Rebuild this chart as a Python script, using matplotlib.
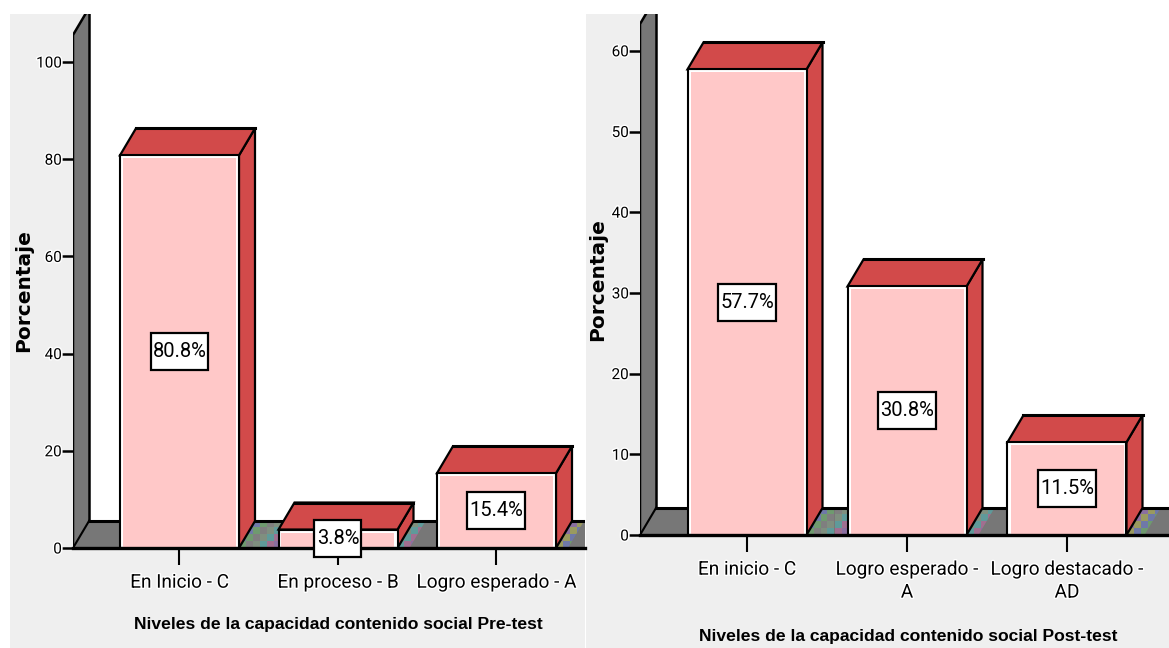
import matplotlib
matplotlib.use('Agg')
import matplotlib.pyplot as plt
import matplotlib.patheffects as pe
from matplotlib.patches import Polygon, Rectangle

W, H = 1169, 648

pre_labels = ['En Inicio - C', 'En proceso - B', 'Logro esperado - A']
pre_values = [80.8, 3.8, 15.4]
pre_ticks = [0, 20, 40, 60, 80, 100]

post_labels = ['En inicio - C', 'Logro esperado -\nA', 'Logro destacado -\nAD']
post_values = [57.7, 30.8, 11.5]
post_ticks = [0, 10, 20, 30, 40, 50, 60]

thin = ['Roboto', 'Liberation Sans']
pink = '#ffc8c8'
red = '#d24a4a'
wall = '#777777'
panel = '#efefef'
# the speckled floor next to the bars
tints = ['#8a6fa0', '#6f9a6f', '#5f9a9a', '#9a9a5f', '#7f7f7f', '#a06f90', '#6f78a8', '#7f8f7f']

fig = plt.figure(figsize=(W / 100, H / 100), dpi=100, facecolor='white')
halo = [pe.withStroke(linewidth=2, foreground='white')]


def px_rect(x0, y0, x1, y1):
    # pixel box (y from the top) to figure fractions
    return [x0 / W, 1 - y1 / H, (x1 - x0) / W, (y1 - y0) / H]


def draw_chart(box, pitch, first_tick, px_unit, labels, values, ticks, xlabel, xlabel_pos, ylabel_pos, cut, speckle):
    x0, y0, x1, y1 = box
    ax = fig.add_axes(px_rect(x0, y0, x1, y1), facecolor='none')
    xmin = 1 - (first_tick - x0) / pitch
    xmax = 1 + (x1 - first_tick) / pitch
    ymax = (y1 - y0) / px_unit
    ax.set_xlim(xmin, xmax)
    ax.set_ylim(0, ymax)
    dx = 16 / pitch
    dy = 27 / px_unit
    w = 119 / pitch

    # back wall, floor
    ax.add_patch(Polygon([(xmin + dx, dy), (xmax, dy), (xmax, ymax), (xmin + dx, ymax)], fc='white', ec='none', zorder=1))
    cut_y = ymax - cut / px_unit
    cut_x = xmin + dx * cut / 27
    ax.add_patch(Polygon([(xmin, 0), (xmin + dx, dy), (xmin + dx, ymax), (cut_x, ymax), (xmin, cut_y)],
                         fc=wall, ec='none', zorder=2, clip_on=False))
    ax.plot([xmin, xmin, cut_x], [0, cut_y, ymax], color='black', lw=1.8, zorder=3)
    ax.plot([xmin + dx, xmin + dx], [dy, ymax], color='black', lw=1.8, zorder=3)
    ax.plot([xmin, xmin + dx], [0, dy], color='black', lw=1.5, zorder=3)
    ax.add_patch(Polygon([(xmin, 0), (xmin + dx, dy), (xmax, dy), (xmax, 0)], fc=wall, ec='none', zorder=2))

    pos = [1, 2, 3]
    # 7 px mosaic on the floor, only right of each bar
    cell_x = 7 / pitch
    cell_y = 7 / px_unit
    for p, width in zip(pos, speckle):
        r = p + w / 2
        clip = Polygon([(r, 0), (r + dx, dy), (r + dx + width / pitch, dy), (r + width / pitch, 0)], transform=ax.transData)
        for i in range(int((width + 16) / 7) + 1):
            for j in range(4):
                cell = Rectangle((r + i * cell_x, j * cell_y), cell_x, cell_y, fc=tints[(i * 3 + j * 5 + p) % len(tints)],
                                 ec='none', zorder=2.5)
                ax.add_patch(cell)
                cell.set_clip_path(clip)
    ax.plot([xmin + dx, xmax], [dy, dy], color='black', lw=2.2, zorder=3)

    for p, v in zip(pos, values):
        r = p + w / 2
        l = p - w / 2
        ax.add_patch(Polygon([(r, 0), (r + dx, dy), (r + dx, v + dy), (r, v)], fc=red, ec='black', lw=1.6, zorder=4, clip_on=False))
        ax.add_patch(Polygon([(l, v), (l + dx, v + dy), (r + dx, v + dy), (r, v)], fc=red, ec='black', lw=1.6, zorder=4, clip_on=False))
        ax.plot([l + dx, r + dx], [v + dy, v + dy], color='black', lw=2.2, zorder=5)
    ax.bar(pos, values, w, color='white', edgecolor='black', lw=1.5, zorder=5)
    ax.bar(pos, [v - 3 / px_unit for v in values], w - 6 / pitch, color=pink, edgecolor='none', zorder=6)

    box_h = 37 / px_unit
    for p, v in zip(pos, values):
        label = '%.1f%%' % v
        box_w = (58 if len(label) > 4 else 47) / pitch
        ax.add_patch(Rectangle((p - box_w / 2, v / 2 - box_h / 2), box_w, box_h, fc='white', ec='black', lw=1.6,
                               zorder=8, clip_on=False))
        ax.text(p, v / 2, label, ha='center', va='center', fontsize=14.5, family=thin, zorder=9, clip_on=False)

    for s in ['top', 'right', 'left']:
        ax.spines[s].set_visible(False)
    ax.spines['bottom'].set_linewidth(2.4)
    ax.spines['bottom'].set_zorder(7)
    ax.set_xticks(pos)
    ax.set_xticklabels(labels, fontsize=13.7, family=thin, linespacing=1.35, path_effects=halo)
    ax.set_yticks(ticks)
    ax.set_yticklabels(ticks, fontsize=11, family=thin, path_effects=halo)
    ax.tick_params(axis='x', length=12.5, width=1.5, pad=6)
    ax.tick_params(axis='y', length=8, width=1.8, pad=0)

    fx, fy = xlabel_pos
    fig.text(fx / W, 1 - fy / H, xlabel, ha='center', va='center', fontsize=12.6, fontweight='bold', family='Liberation Sans')
    fx, fy = ylabel_pos
    fig.text(fx / W, 1 - fy / H, 'Porcentaje', ha='center', va='center', rotation=90, fontsize=14.5, fontweight='bold', family='DejaVu Sans')
    return ax


fig.add_artist(Rectangle((10 / W, 0), 575 / W, 1 - 14 / H, transform=fig.transFigure, fc=panel, ec='none', zorder=-1))
fig.add_artist(Rectangle((586 / W, 0), 583 / W, 1 - 14 / H, transform=fig.transFigure, fc=panel, ec='none', zorder=-1))

draw_chart((73, 14, 585, 548), 158.5, 179.5, 4.86, pre_labels, pre_values, pre_ticks,
           'Niveles de la capacidad contenido social Pre-test', (338, 624), (24, 291), 21, (40, 12, 12))
draw_chart((640, 14, 1169, 535), 160, 747, 8.07, post_labels, post_values, post_ticks,
           'Niveles de la capacidad contenido social Post-test', (908, 637), (598, 280), 10, (40, 12, 18))

fig.savefig('out.png', dpi=100)
